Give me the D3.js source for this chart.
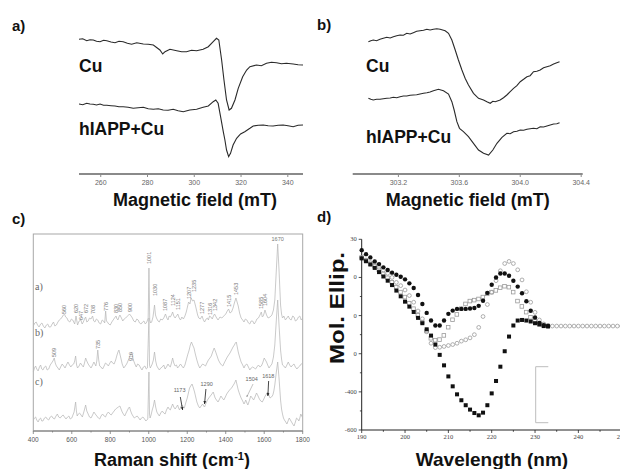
<!DOCTYPE html>
<html>
<head>
<meta charset="utf-8">
<script src="https://cdn.jsdelivr.net/npm/d3@7/dist/d3.min.js"></script>
<style>
body{margin:0;background:#fff;}
svg text{font-family:"Liberation Sans",Arial,sans-serif;}
</style>
</head>
<body>
<div id="chart"></div>
<script>
// ---------- data ----------
// a) EPR, wide field (mT) / intensity (a.u., traces stacked)
var eprACuField=[250.7,252.3,254.0,255.4,256.8,258.2,259.7,261.2,262.6,264.4,266.1,267.8,269.6,271.4,273.2,275.4,278.2,280.3,282.5,285.3,286.5,287.5,289.6,292.5,294.6,296.7,298.8,301.0,303.8,306.0,308.1,309.5,310.5,311.7,312.7,313.8,314.9,315.9,317.4,318.8,320.7,322.4,323.8,326.6,328.7,330.9,333.0,335.2,337.3,339.4,342.3,344.4,346.5];
var eprACu=[133.7,134.3,132.3,133.3,133,131.7,131.3,132.7,132.3,131,130.3,131.7,131.3,129.7,128.7,130.3,129,128.7,128,123,119,121.3,123.7,122.3,121.3,121.3,122.7,122.3,123.7,126.3,131.3,134.7,133,113,93,73,63,64.7,73,84.7,96.3,103,106.3,108,107.3,109.7,110.7,110.3,109.3,109.7,109,108.3,108];
var eprAHiField=[250.7,252.3,254.0,255.4,256.8,258.2,259.7,261.2,262.6,264.4,266.1,267.8,269.6,271.7,273.9,276.0,278.2,280.3,282.5,284.6,286.7,288.8,291.0,293.1,295.3,298.1,301.0,303.8,306.0,308.1,309.2,310.2,311.25,312.4,313.1,313.8,314.7,315.5,316.6,318.1,319.8,321.6,323.8,325.2,327.4,329.5,331.6,333.7,335.9,338.0,340.1,342.3,344.4,346.5];
var eprAHi=[69,68.3,69.7,69,68.7,68,69,67.7,67.7,67.3,67,66.3,66.3,65.7,64.7,65.3,65.7,64.3,63.7,64.3,63,62.7,63.7,62.3,61.3,63,63.7,65.7,67,71.3,73,69.7,56.3,41.3,33,23,16.3,19.7,28,34.7,39,41.3,44.7,47,47.7,48,47.3,47,47.7,48,47.3,46.3,47.7,48];
var eprATicks=[260,280,300,320,340];

// b) EPR, narrow field
var eprBCuField=[303.003,303.019,303.035,303.057,303.079,303.101,303.124,303.146,303.167,303.189,303.211,303.233,303.255,303.277,303.298,303.320,303.342,303.365,303.387,303.408,303.430,303.452,303.474,303.507,303.529,303.551,303.573,303.594,303.617,303.638,303.660,303.693,303.726,303.759,303.781,303.803,303.820,303.836,303.868,303.890,303.912,303.934,303.956,303.978,304.000,304.022,304.044,304.065,304.087,304.109,304.131,304.153,304.175,304.197,304.219,304.240,304.258];
var eprBCu=[131.3,132.3,133,132.3,133.7,134.7,135.7,135,136.3,137.3,138,137.7,139.7,139,140.3,141.7,142.3,142.7,143.7,143,143.7,144.3,143.7,142.3,139.7,133,123,113,103,94.7,88,79.7,74.7,73,71.3,69.7,71.7,71.3,73,75.3,78,81.3,84.7,87.3,91.3,93.7,96.3,97.3,101.3,101.7,103,105.3,106.3,107.3,109,110.3,111.3];
var eprBHiField=[303.003,303.019,303.035,303.057,303.079,303.101,303.124,303.146,303.167,303.189,303.211,303.233,303.255,303.277,303.298,303.320,303.342,303.365,303.387,303.408,303.430,303.463,303.496,303.529,303.551,303.566,303.584,303.601,303.627,303.660,303.693,303.726,303.759,303.792,303.820,303.847,303.880,303.912,303.934,303.956,303.978,304.000,304.022,304.044,304.065,304.087,304.109,304.131,304.153,304.175,304.197,304.219,304.240,304.258];
var eprBHi=[74.7,73.7,73,73.7,73.7,74.3,74.7,75,75.7,75.3,76.3,77,77,77.7,78,78.3,79,79.7,80.3,81,82.3,83.7,82.3,79,71.3,63,51.3,44.7,41.3,36.3,29.7,23,19.7,18,23,29.7,35.7,39.7,39.3,41.3,41.7,43,42.7,43.7,44.3,44.7,44.3,46.3,46,47,48,49,49.3,50.3];
var eprBTicks=[303.2,303.6,304.0,304.4];

// c) Raman spectra [shift cm-1, intensity]
var ramanA=[[400,105],[408,108],[415,109],[422,106],[430,104],[438,107],[445,108],[452,105],[460,103],[468,106],[475,107],[482,104],[490,104],[498,107],[505,109],[512,105],[520,106],[528,109],[535,111],[542,112],[550,114],[556,116],[562,117],[568,114],[575,113],[582,110],[590,109],[598,112],[605,111],[615,107],[622,115],[630,106],[638,110],[647,111],[654,107],[660,109],[666,112],[672,114],[678,109],[685,110],[692,113],[700,112],[708,115],[714,110],[720,109],[728,112],[735,111],[742,108],[750,107],[758,111],[765,110],[771,108],[776,120],[780,110],[785,109],[792,107],[800,106],[808,109],[815,111],[822,113],[830,115],[835,112],[840,111],[845,114],[850,116],[858,113],[865,110],[872,112],[880,113],[890,115],[900,117],[908,115],[915,113],[922,110],[930,109],[938,112],[945,111],[952,108],[960,107],[968,109],[975,110],[982,107],[990,109],[997,113],[1001,163],[1005,111],[1010,108],[1015,109],[1022,114],[1030,126],[1035,116],[1040,113],[1048,110],[1055,109],[1062,112],[1070,111],[1078,113],[1087,117],[1094,113],[1100,111],[1106,115],[1112,114],[1118,116],[1124,119],[1130,115],[1137,113],[1144,115],[1151,117],[1158,113],[1165,111],[1172,114],[1180,112],[1188,115],[1195,119],[1201,124],[1207,129],[1214,127],[1220,133],[1228,130],[1235,131],[1242,126],[1248,121],[1254,116],[1260,113],[1268,112],[1277,115],[1284,111],[1290,109],[1298,112],[1305,113],[1310,111],[1316,115],[1323,114],[1330,112],[1336,115],[1342,117],[1350,114],[1360,111],[1370,114],[1380,113],[1390,115],[1400,117],[1408,120],[1415,122],[1422,118],[1430,119],[1438,123],[1445,128],[1453,133],[1459,129],[1465,125],[1472,118],[1480,113],[1488,111],[1495,109],[1502,112],[1510,111],[1518,108],[1525,107],[1532,110],[1540,110],[1548,107],[1555,109],[1562,112],[1570,113],[1578,116],[1585,119],[1590,114],[1595,115],[1600,118],[1604,121],[1612,116],[1620,113],[1630,114],[1640,116],[1648,121],[1655,131],[1663,161],[1670,187],[1677,161],[1685,126],[1690,117],[1695,113],[1702,115],[1710,111],[1718,113],[1725,115],[1732,112],[1740,111],[1748,115],[1755,114],[1762,110],[1770,111],[1778,114],[1785,115],[1792,111],[1800,113]];
var ramanB=[[400,59],[406,63],[412,65],[418,62],[425,60],[432,64],[438,66],[444,62],[450,61],[458,64],[465,65],[472,61],[480,62],[488,66],[495,68],[502,70],[509,73],[514,68],[520,65],[528,63],[535,61],[542,64],[550,67],[558,65],[565,63],[572,66],[580,69],[588,66],[595,64],[602,66],[610,67],[615,70],[620,75],[625,66],[630,63],[638,65],[645,68],[652,66],[660,64],[666,68],[672,73],[678,70],[685,67],[692,65],[700,63],[708,66],[715,69],[720,67],[725,65],[730,70],[735,81],[740,71],[745,65],[752,64],[760,62],[768,65],[775,68],[782,67],[790,65],[798,68],[805,70],[812,68],[820,67],[828,71],[835,76],[840,79],[845,81],[850,77],[855,73],[862,67],[870,63],[878,65],[885,67],[892,70],[898,73],[904,76],[910,79],[915,75],[920,71],[928,67],[935,64],[942,67],[950,66],[958,63],[965,61],[972,64],[980,65],[987,62],[993,63],[1001,113],[1004,66],[1008,63],[1013,65],[1018,67],[1024,71],[1030,79],[1036,70],[1042,65],[1048,63],[1055,61],[1062,63],[1070,64],[1078,66],[1085,62],[1092,64],[1100,67],[1106,65],[1112,64],[1118,68],[1124,73],[1130,68],[1137,65],[1144,66],[1150,63],[1158,65],[1165,67],[1172,65],[1180,63],[1188,66],[1195,71],[1202,76],[1210,81],[1216,86],[1222,89],[1228,86],[1235,83],[1242,77],[1250,71],[1258,66],[1265,63],[1272,65],[1280,67],[1288,66],[1295,65],[1302,68],[1310,71],[1318,73],[1325,75],[1332,79],[1340,83],[1348,79],[1355,75],[1362,71],[1370,68],[1378,66],[1385,65],[1392,68],[1400,71],[1408,74],[1415,76],[1422,78],[1430,81],[1438,84],[1445,86],[1450,88],[1455,89],[1460,84],[1465,79],[1472,74],[1480,69],[1488,66],[1495,63],[1502,66],[1510,67],[1518,64],[1525,61],[1532,63],[1540,64],[1548,63],[1555,62],[1562,64],[1570,66],[1578,64],[1585,65],[1592,68],[1600,73],[1606,71],[1612,69],[1618,66],[1625,63],[1632,65],[1640,67],[1648,74],[1655,86],[1663,111],[1670,131],[1677,106],[1685,81],[1690,72],[1695,66],[1702,65],[1710,63],[1718,66],[1725,69],[1732,66],[1740,64],[1748,66],[1755,67],[1762,64],[1770,62],[1778,64],[1785,65],[1792,67],[1800,68]];
var ramanC=[[400,11],[406,13],[412,14],[418,11],[425,9],[432,12],[438,13],[444,10],[450,10],[458,13],[465,14],[472,12],[480,11],[488,14],[495,15],[502,13],[510,12],[518,15],[525,17],[532,14],[540,13],[548,15],[555,16],[562,14],[570,12],[578,14],[585,15],[592,12],[600,13],[606,16],[612,19],[616,24],[620,29],[624,20],[628,15],[634,17],[640,18],[648,16],[655,14],[664,20],[672,26],[678,20],[685,17],[692,14],[700,13],[708,16],[715,19],[722,17],[730,15],[738,13],[745,12],[752,15],[760,17],[768,15],[775,14],[782,17],[790,19],[798,17],[805,16],[812,18],[820,20],[828,22],[835,23],[842,24],[850,25],[856,22],[862,19],[868,17],[875,15],[882,18],[890,21],[895,23],[900,24],[906,20],[912,17],[918,15],[925,13],[932,14],[940,15],[948,13],[955,11],[962,13],[970,14],[978,12],[985,10],[990,11],[995,12],[1001,59],[1004,17],[1007,13],[1012,16],[1018,21],[1024,25],[1030,31],[1036,24],[1042,19],[1048,17],[1055,15],[1062,18],[1070,20],[1078,18],[1085,17],[1092,21],[1100,24],[1106,22],[1112,21],[1118,24],[1124,27],[1130,24],[1137,22],[1144,24],[1150,26],[1155,23],[1160,21],[1166,24],[1173,26],[1179,24],[1185,23],[1192,28],[1200,33],[1206,38],[1212,43],[1218,45],[1225,47],[1232,43],[1238,39],[1244,34],[1250,29],[1258,25],[1265,23],[1272,25],[1280,27],[1285,25],[1290,24],[1298,28],[1305,31],[1312,33],[1320,35],[1328,37],[1335,39],[1340,36],[1345,33],[1352,31],[1360,29],[1368,32],[1375,35],[1382,33],[1390,31],[1398,34],[1405,37],[1412,39],[1420,41],[1430,43],[1440,46],[1446,48],[1453,51],[1459,46],[1465,41],[1472,37],[1480,33],[1488,30],[1495,27],[1500,29],[1504,31],[1510,28],[1515,26],[1522,30],[1530,35],[1538,33],[1545,31],[1552,34],[1560,38],[1568,35],[1575,32],[1582,30],[1590,29],[1598,32],[1605,35],[1612,37],[1618,39],[1624,36],[1630,33],[1638,34],[1645,36],[1650,40],[1655,46],[1663,59],[1670,69],[1677,53],[1685,31],[1690,22],[1695,17],[1700,13],[1705,11],[1712,9],[1718,7],[1724,10],[1730,13],[1736,11],[1742,9],[1748,7],[1755,5],[1762,9],[1768,13],[1774,12],[1780,10],[1785,13],[1790,17],[1795,15],[1800,13]];
// peak labels: [shift, intensity where label starts]
var ramanPeakLabels=[[560,117],[620,118],[647,111],[672,118],[708,117],[776,120],[830,118],[850,119],[900,119],[1001,167],[1030,135],[1087,120],[1124,125],[1151,121],[1207,132],[1235,139],[1277,117],[1316,116],[1342,120],[1415,124],[1453,136],[1585,122],[1604,125],[509,74],[735,82],[910,70]];
var ramanTopLabel=[1670,190];
// arrows in trace c: [label, text shift, text intensity, from shift, from int, to shift, to int, heavy]
var ramanArrows=[["1173",1160,39,1164,34,1176,21,1],["1290",1301,45,1297,42,1290,27,1],["1504",1535,50,1542,47,1509,34,0],["1618",1621,53,1623,50,1619,35,1]];
var ramanTraceNames=[["a)",141],["b)",95],["c)",46]];
var ramanTicks=[400,600,800,1000,1200,1400,1600,1800];

// d) CD spectra, wavelength (nm) / mol. ellipticity
var cdWl=[190,191,192,193,194,195,196,197,198,199,200,201,202,203,204,205,206,207,208,209,210,211,212,213,214,215,216,217,218,219,220,221,222,223,224,225,226,227,228,229,230,231,232,233,234,235,236,237,238,239,240,241,242,243,244,245,246,247,248,249,250];
var cdFilledCircle=[343,322,305,284,270,253,239,225,214,204,190,169,145,108,61,14,-26,-52,-52,-26,9,26,35,35,35,37,40,51,78,119,162,200,221,221,209,183,152,117,75,25,-10,-38,-50,-55];
var cdFilledSquare=[300,285,268,250,228,205,183,160,131,101,73,47,19,-12,-40,-72,-105,-152,-206,-261,-319,-371,-413,-444,-470,-493,-511,-523,-509,-470,-408,-343,-268,-187,-110,-52,-26,-23,-26,-31,-40,-47,-55,-57];
var cdOpenCircle=[305,291,278,266,252,238,222,200,174,157,134,105,70,24,-17,-85,-145,-168,-166,-162,-157,-152,-145,-134,-127,-117,-100,-62,-5,58,122,183,235,273,284,273,240,187,125,70,17,-23,-44,-52,-55,-55,-55,-55,-55,-55,-55,-55,-55,-55,-55,-55,-55,-55,-55,-55,-55];
var cdOpenSquare=[303,288,270,258,239,218,197,174,148,122,96,64,35,0,-35,-82,-120,-130,-127,-105,-62,-23,5,35,60,75,80,86,96,113,122,131,145,153,148,122,75,47,17,-10,-30,-42,-50,-55];
var cdXTicks=[190,200,210,220,230,240,250];
var cdYTicks=[400,200,0,-200,-400,-600];
var cdYTickLabels=["30","0","0","0","-400","-600"];

// ---------- drawing ----------
var svg=d3.select("#chart").append("svg").attr("width",620).attr("height",469);
svg.append("rect").attr("width",620).attr("height",469).attr("fill","#fff");

var yEpr=d3.scaleLinear().domain([0,150]).range([173,23]);

function drawEpr(x,ticks,fmt,traces,labelx,titleDx){
	var g=svg.append("g");
	g.append("line").attr("x1",x.range()[0]).attr("x2",x.range()[1])
		.attr("y1",174).attr("y2",174)
		.attr("stroke","#8a8a8a").attr("stroke-width",2);
	g.selectAll(".tk").data(ticks).enter().append("line")
		.attr("x1",function(d){return x(d);}).attr("x2",function(d){return x(d);})
		.attr("y1",173).attr("y2",177).attr("stroke","#8a8a8a").attr("stroke-width",1);
	g.selectAll(".tl").data(ticks).enter().append("text")
		.attr("x",function(d){return x(d);}).attr("y",184.5)
		.attr("text-anchor","middle").attr("font-size",7).attr("fill","#666")
		.text(fmt);
	traces.forEach(function(t){
		var line=d3.line()
			.x(function(d,i){return x(t.field[i]);})
			.y(function(d){return yEpr(d);});
		g.append("path").datum(t.vals).attr("d",line)
			.attr("fill","none").attr("stroke","#2a2a2a").attr("stroke-width",1.1);
		g.append("text").attr("x",labelx).attr("y",t.ly)
			.attr("font-size",17.5).attr("font-weight","bold").attr("fill","#111")
			.text(t.name);
	});
	g.append("text").attr("x",(x.range()[0]+x.range()[1])/2+titleDx).attr("y",206)
		.attr("text-anchor","middle").attr("font-size",18).attr("font-weight","bold").attr("fill","#111")
		.text("Magnetic field (mT)");
}

var xA=d3.scaleLinear().domain([250.7,346.5]).range([79,303]);
drawEpr(xA,eprATicks,function(d){return d;},
	[{field:eprACuField,vals:eprACu,name:"Cu",ly:71.5},{field:eprAHiField,vals:eprAHi,name:"hIAPP+Cu",ly:134.5}],
	79,4);

var xB=d3.scaleLinear().domain([302.9,304.41]).range([352.7,582.7]);
drawEpr(xB,eprBTicks,d3.format(".1f"),
	[{field:eprBCuField,vals:eprBCu,name:"Cu",ly:72},{field:eprBHiField,vals:eprBHi,name:"hIAPP+Cu",ly:143}],
	366,0);

// panel letters
[["a)",12,31],["b)",317,30],["c)",12,224],["d)",317,222]].forEach(function(p){
	svg.append("text").attr("x",p[1]).attr("y",p[2])
		.attr("font-size",15).attr("font-weight","bold").attr("fill","#111").text(p[0]);
});

// ---- c) Raman
var xR=d3.scaleLinear().domain([400,1800]).range([33.3,302.7]);
var yR=d3.scaleLinear().domain([0,197]).range([431,234]);
var gr=svg.append("g");
gr.append("rect").attr("x",33.3).attr("y",234).attr("width",269.4).attr("height",197)
	.attr("fill","none").attr("stroke","#a8a8a8").attr("stroke-width",1);
var rline=d3.line().x(function(d){return xR(d[0]);}).y(function(d){return yR(d[1]);});
[ramanA,ramanB,ramanC].forEach(function(s){
	gr.append("path").datum(s).attr("d",rline)
		.attr("fill","none").attr("stroke","#b8b8b8").attr("stroke-width",0.75);
});
gr.append("line").attr("x1",33.3).attr("x2",302.7).attr("y1",431).attr("y2",431)
	.attr("stroke","#777").attr("stroke-width",1);
gr.selectAll(".rt").data(d3.range(400,1801,100)).enter().append("line")
	.attr("x1",function(d){return xR(d);}).attr("x2",function(d){return xR(d);})
	.attr("y1",431).attr("y2",function(d){return d%200==0?434:432.5;})
	.attr("stroke","#777").attr("stroke-width",0.8);
gr.selectAll(".rl").data(ramanTicks).enter().append("text")
	.attr("x",function(d){return xR(d);}).attr("y",442)
	.attr("text-anchor","middle").attr("font-size",6.5).attr("fill","#555")
	.text(function(d){return d;});
gr.selectAll(".pl").data(ramanPeakLabels).enter().append("text")
	.attr("transform",function(d){return "translate("+(xR(d[0])+2)+","+yR(d[1])+") rotate(-90)";})
	.attr("font-size",5.5).attr("fill","#777")
	.text(function(d){return d[0];});
gr.append("text").attr("x",xR(ramanTopLabel[0])).attr("y",yR(ramanTopLabel[1]))
	.attr("text-anchor","middle").attr("font-size",5.5).attr("fill","#777").text(ramanTopLabel[0]);
ramanArrows.forEach(function(a){
	gr.append("text").attr("x",xR(a[1])).attr("y",yR(a[2]))
		.attr("text-anchor","middle").attr("font-size",5.5).attr("fill","#666").text(a[0]);
	var x1=xR(a[3]),y1=yR(a[4]),x2=xR(a[5]),y2=yR(a[6]);
	gr.append("line").attr("x1",x1).attr("y1",y1).attr("x2",x2).attr("y2",y2)
		.attr("stroke",a[7]?"#333":"#888").attr("stroke-width",a[7]?0.9:0.5);
	var ang=Math.atan2(y2-y1,x2-x1),hl=a[7]?3.2:2;
	gr.append("path")
		.attr("d","M"+x2+","+y2+"L"+(x2-hl*Math.cos(ang-0.45))+","+(y2-hl*Math.sin(ang-0.45))+
			"L"+(x2-hl*Math.cos(ang+0.45))+","+(y2-hl*Math.sin(ang+0.45))+"Z")
		.attr("fill",a[7]?"#222":"#888");
});
ramanTraceNames.forEach(function(t){
	gr.append("text").attr("x",35).attr("y",yR(t[1]))
		.style("font-family","'Liberation Serif','Times New Roman',serif")
		.attr("font-size",10).attr("fill","#666").text(t[0]);
});
var rt=gr.append("text").attr("x",172).attr("y",466).attr("text-anchor","middle")
	.attr("font-size",18).attr("font-weight","bold").attr("fill","#111");
rt.append("tspan").text("Raman shift (cm");
rt.append("tspan").attr("dy",-6).attr("font-size",11).text("-1");
rt.append("tspan").attr("dy",6).text(")");

// ---- d) CD
var xC=d3.scaleLinear().domain([190,250]).range([361.7,621.7]);
var yC=d3.scaleLinear().domain([-600,400]).range([430,239.3]);
var gc=svg.append("g");
gc.append("line").attr("x1",xC(190)).attr("x2",xC(190)).attr("y1",yC(400)).attr("y2",yC(-600))
	.attr("stroke","#222").attr("stroke-width",1);
gc.append("line").attr("x1",xC(190)).attr("x2",620).attr("y1",yC(-600)).attr("y2",yC(-600))
	.attr("stroke","#222").attr("stroke-width",1);
gc.selectAll(".yt").data(d3.range(-600,401,100)).enter().append("line")
	.attr("x1",function(d){return d%200==0?xC(190)-3:xC(190)-1.8;}).attr("x2",xC(190))
	.attr("y1",function(d){return yC(d);}).attr("y2",function(d){return yC(d);})
	.attr("stroke","#222").attr("stroke-width",0.8);
gc.selectAll(".xt").data(d3.range(190,251,5)).enter().append("line")
	.attr("x1",function(d){return xC(d);}).attr("x2",function(d){return xC(d);})
	.attr("y1",yC(-600)).attr("y2",function(d){return d%10==0?yC(-600)+3:yC(-600)+1.8;})
	.attr("stroke","#222").attr("stroke-width",0.8);
gc.selectAll(".yl").data(cdYTicks).enter().append("text")
	.attr("x",xC(190)-5).attr("y",function(d){return yC(d)+2;})
	.attr("text-anchor","end").attr("font-size",6.5).attr("fill","#444")
	.style("font-family","'Liberation Serif','Times New Roman',serif")
	.text(function(d,i){return cdYTickLabels[i];});
gc.selectAll(".xl").data(cdXTicks).enter().append("text")
	.attr("x",function(d){return xC(d);}).attr("y",yC(-600)+9)
	.attr("text-anchor","middle").attr("font-size",6.5).attr("fill","#444")
	.style("font-family","'Liberation Serif','Times New Roman',serif")
	.text(function(d){return d;});

function cdMarks(vals,shape,filled){
	var s=gc.append("g");
	var pts=vals.map(function(v,i){return [cdWl[i],v];});
	var col=filled?"#111":"#9a9a9a";
	if(shape=="c"){
		s.selectAll("circle").data(pts).enter().append("circle")
			.attr("cx",function(d){return xC(d[0]);}).attr("cy",function(d){return yC(d[1]);})
			.attr("r",filled?2.2:1.9)
			.attr("fill",filled?col:"none").attr("stroke",col).attr("stroke-width",filled?0:0.8);
	}else{
		s.selectAll("rect").data(pts).enter().append("rect")
			.attr("x",function(d){return xC(d[0])-2;}).attr("y",function(d){return yC(d[1])-2;})
			.attr("width",filled?4:3.6).attr("height",filled?4:3.6)
			.attr("fill",filled?col:"none").attr("stroke",col).attr("stroke-width",filled?0:0.8);
	}
}
cdMarks(cdOpenCircle,"c",false);
cdMarks(cdOpenSquare,"s",false);
cdMarks(cdFilledSquare,"s",true);
cdMarks(cdFilledCircle,"c",true);

// empty legend bracket
gc.append("path").attr("d","M548.3,366.7H535.7V422.7H548.3")
	.attr("fill","none").attr("stroke","#bdbdbd").attr("stroke-width",1);

gc.append("text").attr("transform","translate(344,308) rotate(-90)")
	.attr("text-anchor","middle").attr("font-size",20).attr("font-weight","bold").attr("fill","#111")
	.attr("textLength",112).attr("lengthAdjust","spacingAndGlyphs")
	.text("Mol. Ellip.");
gc.append("text").attr("x",492).attr("y",466).attr("text-anchor","middle")
	.attr("font-size",19).attr("font-weight","bold").attr("fill","#111")
	.text("Wavelength (nm)");
</script>
</body>
</html>
